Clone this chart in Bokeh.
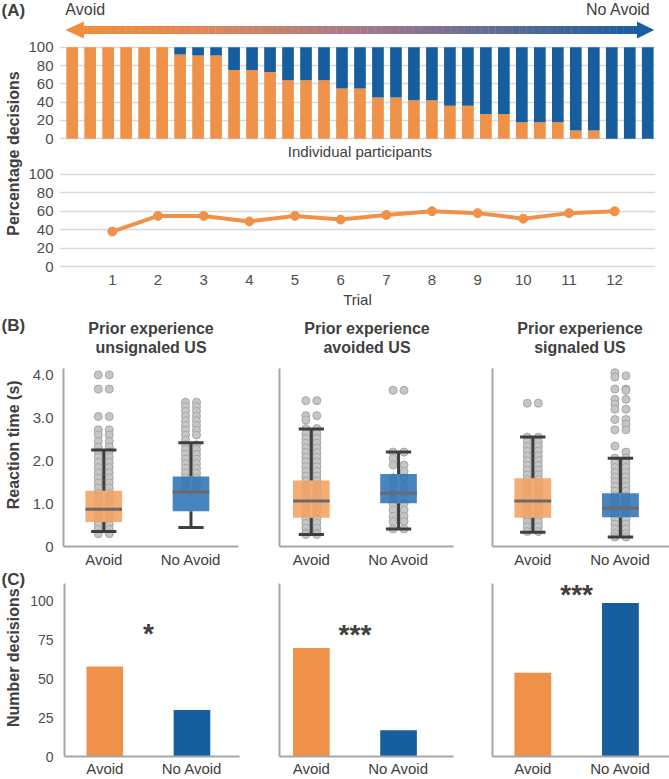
import numpy as np
from math import pi
from bokeh.plotting import figure
from bokeh.layouts import column, row
from bokeh.models import Range1d, FixedTicker, Label
from bokeh.embed import file_html
from bokeh.resources import INLINE

FONT = "Liberation Sans"
ORANGE = "#F0914A"
BLUE = "#175E9F"
BOX_OR = "#F4A263"
BOX_BL = "#2F74B5"
DARK = "#404040"
TICKC = "#4D4D4D"
GRIDC = "#D9D9D9"
AXISC = "#A6A6A6"
DOT_FILL = "#C6C6C6"
DOT_LINE = "#A6A6A6"

# ---------------- Panel A data ----------------
participants = list(range(1, 34))
participant_avoid_pct = [100, 100, 100, 100, 100, 100, 92, 91, 91, 75, 75, 73, 64, 64, 64,
                         55, 55, 45, 45, 42, 42, 36, 36, 27, 27, 18, 18, 18, 9, 9, 0, 0, 0]
trials = [1, 2, 3, 4, 5, 6, 7, 8, 9, 10, 11, 12]
trial_avoid_pct = [38, 55, 55, 49, 55, 51, 56, 60, 58, 52, 58, 60]
pct_ticks = [0, 20, 40, 60, 80, 100]

# ---------------- Panel B data ----------------
choice_labels = ["Avoid", "No Avoid"]
condition_titles = ["unsignaled US", "avoided US", "signaled US"]
rt_ticks = [0, 1, 2, 3, 4]
rt_unsignaled_avoid = [4.0, 4.0, 3.67, 3.67, 3.03, 3.03, 2.72, 2.72, 2.6, 2.6, 2.45, 2.45,
                       2.32, 2.32, 2.2, 2.2, 2.08, 2.08, 1.96, 1.96, 1.84, 1.84, 1.72, 1.72,
                       1.6, 1.6, 1.48, 1.48, 1.36, 1.36, 1.24, 1.24, 1.12, 1.12, 1.0, 1.0,
                       0.9, 0.9, 0.8, 0.8, 0.7, 0.7, 0.6, 0.6, 0.5, 0.5, 0.4, 0.4, 0.3, 0.3]
rt_unsignaled_noavoid = [3.36, 3.36, 3.26, 3.26, 3.15, 3.15, 3.04, 3.04, 2.93, 2.93, 2.82, 2.82,
                         2.71, 2.71, 2.6, 2.6, 2.48, 2.37, 2.37, 2.26, 2.26, 2.15, 2.15, 2.04,
                         2.04, 1.93, 1.93, 1.82, 1.82, 1.71, 1.71, 1.6, 1.6, 1.45, 1.45, 1.35, 1.35]
rt_avoided_avoid = [3.4, 3.4, 3.05, 3.05, 2.95, 2.75, 2.75, 2.63, 2.63, 2.52, 2.52, 2.41, 2.41,
                    2.3, 2.3, 2.19, 2.19, 2.08, 2.08, 1.97, 1.97, 1.86, 1.86, 1.75, 1.75, 1.64,
                    1.64, 1.53, 1.53, 1.42, 1.42, 1.31, 1.31, 1.2, 1.2, 1.09, 1.09, 0.98, 0.98,
                    0.87, 0.87, 0.76, 0.76, 0.65, 0.65, 0.54, 0.54, 0.43, 0.43, 0.32, 0.32, 0.28, 0.28]
rt_avoided_noavoid = [3.64, 3.64, 2.2, 2.2, 2.05, 1.9, 1.9, 1.75, 1.6, 1.6, 1.45, 1.4, 1.25,
                      1.25, 1.1, 1.0, 1.0, 0.85, 0.85, 0.7, 0.7, 0.58, 0.58, 0.41, 0.41]
rt_signaled_avoid = [3.34, 3.34, 2.55, 2.55, 2.44, 2.44, 2.33, 2.33, 2.22, 2.22, 2.11, 2.11,
                     2.0, 2.0, 1.89, 1.89, 1.78, 1.78, 1.67, 1.67, 1.56, 1.56, 1.45, 1.45,
                     1.34, 1.34, 1.23, 1.23, 1.12, 1.12, 1.01, 1.01, 0.9, 0.9, 0.79, 0.79,
                     0.68, 0.68, 0.57, 0.57, 0.46, 0.46, 0.35, 0.35]
rt_signaled_noavoid = [4.05, 3.98, 3.95, 3.67, 3.67, 3.64, 3.43, 3.43, 3.32, 3.2, 3.2, 2.96,
                       2.96, 2.85, 2.72, 2.72, 2.34, 2.2, 2.06, 2.06, 1.95, 1.95, 1.84, 1.84,
                       1.73, 1.73, 1.62, 1.62, 1.51, 1.51, 1.4, 1.4, 1.29, 1.29, 1.18, 1.18,
                       1.07, 1.07, 0.96, 0.96, 0.85, 0.85, 0.74, 0.74, 0.63, 0.63, 0.52, 0.52,
                       0.41, 0.41, 0.3, 0.3, 0.22, 0.22]
# box stats: lower whisker, q1, median, q3, upper whisker
box_unsignaled_avoid = [0.35, 0.57, 0.87, 1.30, 2.25]
box_unsignaled_noavoid = [0.44, 0.82, 1.27, 1.63, 2.42]
box_avoided_avoid = [0.28, 0.67, 1.06, 1.54, 2.74]
box_avoided_noavoid = [0.41, 1.01, 1.24, 1.69, 2.20]
box_signaled_avoid = [0.33, 0.67, 1.06, 1.59, 2.55]
box_signaled_noavoid = [0.22, 0.68, 0.89, 1.24, 2.06]

# ---------------- Panel C data ----------------
count_ticks = [0, 25, 50, 75, 100]
count_avoid = [58, 70, 54]
count_noavoid = [30, 17, 99]
significance = ["*", "***", "***"]


def clean(p):
    p.outline_line_color = None
    p.background_fill_color = "white"
    p.border_fill_color = "white"
    return p


def style_axis(ax, size="15px"):
    ax.major_label_text_font = FONT
    ax.major_label_text_font_size = size
    ax.major_label_text_color = TICKC
    ax.axis_label_text_font = FONT
    ax.axis_label_text_font_style = "bold"
    ax.axis_label_text_font_size = "16px"
    ax.axis_label_text_color = DARK
    ax.major_tick_line_color = None
    ax.minor_tick_line_color = None
    ax.major_tick_in = 0
    ax.major_tick_out = 0
    ax.minor_tick_in = 0
    ax.minor_tick_out = 0


def lab(p, x, y, text, size="16px", bold=False, align="left", baseline="middle",
        angle=0.0, color=DARK):
    p.add_layout(Label(x=x, y=y, text=text, text_font=FONT, text_font_size=size,
                       text_font_style="bold" if bold else "normal", text_align=align,
                       text_baseline=baseline, angle=angle, text_color=color))


def strip(height, letter, letter_y, title, title_y):
    t = figure(width=25, height=height, x_range=Range1d(0, 25), y_range=Range1d(height, 0),
               x_axis_location=None, y_axis_location=None, toolbar_location=None,
               output_backend="svg", min_border=0)
    clean(t)
    t.grid.visible = False
    lab(t, 1, letter_y, letter, size="17px", bold=True)
    lab(t, 12.5, title_y, title, size="16px", bold=True, align="center", angle=pi / 2)
    return t


# ---------------- Panel A ----------------
tA = strip(310, "(A)", 10, "Percentage decisions", 153)

A1 = figure(width=644, height=160, x_range=Range1d(0.295, 33.43), y_range=Range1d(-23.7, 151.0),
            x_axis_location=None, toolbar_location=None, output_backend="svg",
            min_border_left=32, min_border_right=0, min_border_top=0, min_border_bottom=0)
clean(A1)
A1.xgrid.visible = False
A1.yaxis.ticker = FixedTicker(ticks=pct_ticks)
A1.yaxis.axis_line_color = None
style_axis(A1.yaxis[0])
A1.yaxis.major_label_standoff = 6
A1.ygrid.grid_line_color = GRIDC
A1.ygrid.grid_line_width = 1.5
avoid_arr = np.array(participant_avoid_pct)
A1.vbar(x=participants, width=0.65, bottom=0, top=avoid_arr, fill_color=ORANGE, line_color=None)
A1.vbar(x=participants, width=0.65, bottom=avoid_arr, top=100, fill_color=BLUE, line_color=None)
lab(A1, 17, -13.9, "Individual participants", size="15px", align="center")

# gradient arrow (decoration)
ya, sh, hh = 118.8, 4.4, 9.3
x_head_l, x_tip_l, x_head_r, x_tip_r = 1.65, 0.62, 32.4, 33.36
N = 160
edges = np.linspace(x_head_l, x_head_r, N + 1)
stops = [0.0, 0.2, 0.5, 1.0]
stop_rgb = np.array([[240, 140, 62], [228, 136, 85], [165, 121, 138], [24, 94, 160]])
tt = (np.arange(N) + 0.5) / N
grad_cols = []
for t in tt:
    rgb = [int(np.interp(t, stops, stop_rgb[:, ch])) for ch in range(3)]
    grad_cols.append("#%02x%02x%02x" % tuple(rgb))
A1.quad(left=edges[:-1], right=edges[1:] + 0.02, bottom=ya - sh, top=ya + sh,
        fill_color=grad_cols, line_color=None)
A1.patch([x_tip_l, x_head_l, x_head_l], [ya, ya + hh, ya - hh], fill_color="#F08C3E", line_color=None)
A1.patch([x_tip_r, x_head_r, x_head_r], [ya, ya + hh, ya - hh], fill_color="#185EA0", line_color=None)
lab(A1, 0.62, 141.7, "Avoid", size="16px")
lab(A1, 33.16, 141.7, "No Avoid", size="16px", align="right")

A2 = figure(width=644, height=150, x_range=Range1d(-0.157, 12.895), y_range=Range1d(-2.17, 115.2),
            toolbar_location=None, output_backend="svg",
            min_border_left=32, min_border_right=14, min_border_top=0, min_border_bottom=42)
clean(A2)
A2.xgrid.visible = False
A2.yaxis.ticker = FixedTicker(ticks=pct_ticks)
A2.yaxis.axis_line_color = None
style_axis(A2.yaxis[0])
A2.yaxis.major_label_standoff = 6
A2.xaxis.ticker = FixedTicker(ticks=trials)
A2.xaxis.axis_line_color = None
style_axis(A2.xaxis[0])
A2.xaxis.major_label_standoff = 6
A2.xaxis.axis_label = "Trial"
A2.xaxis.axis_label_text_font_style = "normal"
A2.xaxis.axis_label_text_font_size = "15px"
A2.xaxis.axis_label_standoff = 3
A2.ygrid.grid_line_color = GRIDC
A2.ygrid.grid_line_width = 1.5
A2.line(trials, trial_avoid_pct, line_width=4, line_color=ORANGE)
A2.scatter(trials, trial_avoid_pct, size=9, fill_color=ORANGE, line_color=ORANGE)

# ---------------- Panels B and C ----------------
tB = strip(260, "(B)", 16, "Reaction time (s)", 148)
tC = strip(209, "(C)", 10, "Number decisions", 98)

cols = [
    dict(width=230, mbl=38, mbr=17, xr=(0.538, 2.545), left=63),
    dict(width=215, mbl=24, mbr=17, xr=(0.635, 2.63), left=279),
    dict(width=199, mbl=22, mbr=0, xr=(0.54, 2.56), left=492),
]
rt_groups = [(rt_unsignaled_avoid, rt_unsignaled_noavoid),
             (rt_avoided_avoid, rt_avoided_noavoid),
             (rt_signaled_avoid, rt_signaled_noavoid)]
box_groups = [(box_unsignaled_avoid, box_unsignaled_noavoid),
              (box_avoided_avoid, box_avoided_noavoid),
              (box_signaled_avoid, box_signaled_noavoid)]

B_PX_PER = 42.9      # pixels per second
B_BOT = 546          # page y of 0 s
B_AXMAX = 4.15
B_YMAX = (B_BOT - 310) / B_PX_PER
C_PX_PER = 1.568
C_BOT = 758
C_AXMAX = 111.6
C_YMAX = (C_BOT - 570) / C_PX_PER


def xdata(c, px):
    fw = c["width"] - c["mbl"] - c["mbr"]
    return c["xr"][0] + (px - c["left"]) * (c["xr"][1] - c["xr"][0]) / fw


def setup_xaxis(p):
    p.xaxis.ticker = FixedTicker(ticks=[1, 2])
    p.xaxis.major_label_overrides = {1: choice_labels[0], 2: choice_labels[1]}
    p.xaxis.axis_line_color = AXISC
    p.xaxis.axis_line_width = 2
    style_axis(p.xaxis[0], size="15px")
    p.xaxis.major_label_text_color = DARK


B_figs, C_figs = [tB], [tC]
for i, c in enumerate(cols):
    # ---- B
    p = figure(width=c["width"], height=260, x_range=Range1d(*c["xr"]), y_range=Range1d(0, B_YMAX),
               toolbar_location=None, output_backend="svg",
               min_border_left=c["mbl"], min_border_right=c["mbr"], min_border_top=0, min_border_bottom=24)
    clean(p)
    p.xgrid.visible = False
    p.ygrid.visible = False
    setup_xaxis(p)
    p.xaxis.major_label_standoff = 4
    p.yaxis.axis_line_color = AXISC
    p.yaxis.axis_line_width = 2
    p.yaxis.bounds = (0, B_AXMAX)
    style_axis(p.yaxis[0], size="15px")
    if i == 0:
        p.yaxis.ticker = FixedTicker(ticks=rt_ticks)
        p.yaxis.major_label_overrides = {0: "0", 1: "1.0", 2: "2.0", 3: "3.0", 4: "4.0"}
        p.yaxis.major_label_standoff = 10
    else:
        p.yaxis.ticker = FixedTicker(ticks=[])
    xc = xdata(c, c["left"] + 87.5)
    lab(p, xc, (B_BOT - 328) / B_PX_PER, "Prior experience", size="16px", bold=True, align="center")
    lab(p, xc, (B_BOT - 347) / B_PX_PER, condition_titles[i], size="16px", bold=True, align="center")
    for k, (vals, stats) in enumerate(zip(rt_groups[i], box_groups[i])):
        cx = k + 1
        xs = [cx + (-0.063 if j % 2 == 0 else 0.063) for j in range(len(vals))]
        p.scatter(xs, vals, size=8, fill_color=DOT_FILL, line_color=DOT_LINE, line_width=1)
        lw, q1, med, q3, uw = stats
        fc = BOX_OR if k == 0 else BOX_BL
        p.quad(left=cx - 0.21, right=cx + 0.21, bottom=q1, top=q3, fill_color=fc,
               fill_alpha=0.88, line_color=None)
        p.segment(x0=[cx, cx], y0=[q3, lw], x1=[cx, cx], y1=[uw, q1], line_color="#3F3F3F", line_width=3)
        p.segment(x0=[cx - 0.145, cx - 0.145], y0=[uw, lw], x1=[cx + 0.145, cx + 0.145], y1=[uw, lw],
                  line_color="#3F3F3F", line_width=3)
        p.segment(x0=[cx - 0.21], y0=[med], x1=[cx + 0.21], y1=[med], line_color="#6A6A6A", line_width=3)
    B_figs.append(p)

    # ---- C
    q = figure(width=c["width"], height=209, x_range=Range1d(*c["xr"]), y_range=Range1d(0, C_YMAX),
               toolbar_location=None, output_backend="svg",
               min_border_left=c["mbl"] + (1 if i == 0 else 0), min_border_right=c["mbr"] - (1 if i == 0 else 0),
               min_border_top=0, min_border_bottom=21)
    clean(q)
    q.xgrid.visible = False
    q.ygrid.visible = False
    setup_xaxis(q)
    q.xaxis.major_label_standoff = 3
    q.yaxis.axis_line_color = AXISC
    q.yaxis.axis_line_width = 2
    q.yaxis.bounds = (0, C_AXMAX)
    style_axis(q.yaxis[0], size="14px")
    if i == 0:
        q.yaxis.ticker = FixedTicker(ticks=count_ticks)
        q.yaxis.major_label_standoff = 11
    else:
        q.yaxis.ticker = FixedTicker(ticks=[])
    q.vbar(x=[1], width=0.42, bottom=0, top=[count_avoid[i]], fill_color=ORANGE, line_color=None)
    q.vbar(x=[2], width=0.42, bottom=0, top=[count_noavoid[i]], fill_color=BLUE, line_color=None)
    star_center_py = [630, 631, 590][i]
    lab(q, 1.5, (C_BOT - (star_center_py + 4)) / C_PX_PER, significance[i], size="28px", bold=True,
        align="center", baseline="alphabetic")
    C_figs.append(q)

layout = column(
    row(tA, column(A1, A2)),
    row(*B_figs),
    row(*C_figs),
)

open("out.html", "w").write(file_html(layout, INLINE))
